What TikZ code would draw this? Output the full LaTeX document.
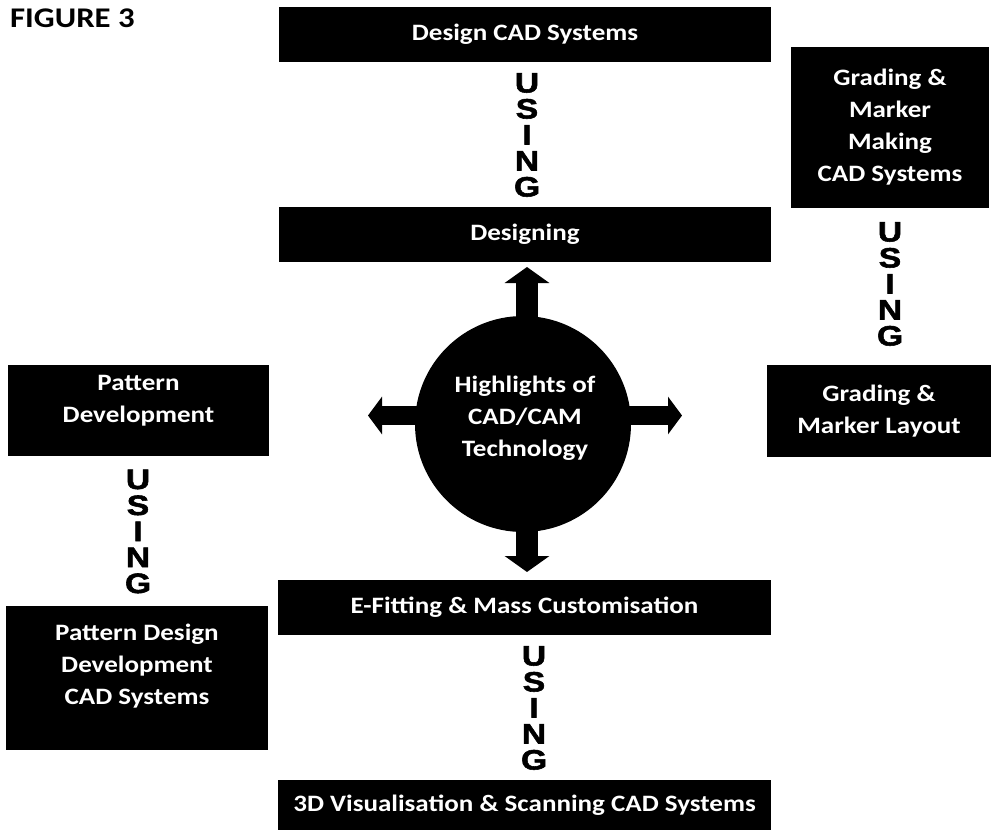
\documentclass[tikz,border=0pt]{standalone}
\usepackage{fontspec}
\setmainfont{Carlito}
\newfontfamily\boxfont{Carlito}[FakeStretch=1.15]
\newfontfamily\usingfont{Liberation Sans}[FakeStretch=1.2,FakeBold=2]
\usetikzlibrary{arrows.meta}
\tikzset{
  blk/.style={fill=black, text=white, inner sep=0pt, align=center,
    font=\boxfont\bfseries\fontsize{23.5}{32}\selectfont},
  btxt/.style={text=white, inner sep=0pt, align=center,
    font=\boxfont\bfseries\fontsize{23.5}{32}\selectfont},
  usingtxt/.style={inner sep=0pt, align=center,
    font=\usingfont\bfseries\fontsize{28}{26}\selectfont},
  fatv/.style={line width=22pt, -{Triangle[length=16pt,width=44pt]}},
  fath/.style={line width=19pt, -{Triangle[length=14pt,width=37pt]}},
}
\begin{document}
\begin{tikzpicture}[x=1pt,y=-1pt]
\useasboundingbox (0,0) rectangle (1004,830);
\fill[white] (0,0) rectangle (1004,830);

\node[anchor=base west, inner sep=0pt, font=\boxfont\bfseries\fontsize{28.5}{32}\selectfont] (fig) at (10,27) {FIGURE 3};

% top column
\node[blk, minimum width=492pt, minimum height=55pt] (dcad) at (525,34.5) {Design CAD Systems};
\node[usingtxt] (u1) at (527,135) {U\\S\\I\\N\\G};
\node[blk, minimum width=492pt, minimum height=55pt] (desg) at (525,234.5) {Designing};

% right column
\node[blk, minimum width=198pt, minimum height=161pt] (gcad) at (890,127.5) {Grading \&\\Marker\\Making\\CAD Systems};
\node[usingtxt] (u2) at (890,284) {U\\S\\I\\N\\G};
\node[blk, minimum width=224pt, minimum height=92pt] (glay) at (879,411) {Grading \&\\Marker Layout};

% left column
\node[blk, minimum width=261pt, minimum height=91pt] (pdev) at (138.5,410.5) {};
\node[btxt] (pdevt) at (138.5,401) {Pattern\\Development};
\node[usingtxt] (u3) at (138,531.5) {U\\S\\I\\N\\G};
\node[blk, minimum width=262pt, minimum height=144pt] (pcad) at (137,678) {};
\node[btxt] (pcadt) at (137,666) {Pattern Design\\Development\\CAD Systems};

% bottom column
\node[blk, minimum width=493pt, minimum height=55pt] (efit) at (524.5,607.5) {E-Fitting \& Mass Customisation};
\node[usingtxt] (u4) at (534,708) {U\\S\\I\\N\\G};
\node[blk, minimum width=493pt, minimum height=50pt] (vis) at (524.5,805) {3D Visualisation \& Scanning CAD Systems};

% hub and arrows
\coordinate (hubc) at (523,424);
\coordinate (upTip) at (527,267);
\coordinate (dnTip) at (527,572);
\coordinate (ltTip) at (368,415.5);
\coordinate (rtTip) at (682,415.5);
\draw[fatv] (hubc -| upTip) -- (upTip);
\draw[fatv] (hubc -| dnTip) -- (dnTip);
\draw[fath] (hubc |- ltTip) -- (ltTip);
\draw[fath] (hubc |- rtTip) -- (rtTip);
\node[circle, fill=black, minimum size=216pt, inner sep=0pt] (hub) at (hubc) {};
\node[btxt] (hubt) at (525,418) {Highlights of\\CAD/CAM\\Technology};
\end{tikzpicture}
\end{document}
